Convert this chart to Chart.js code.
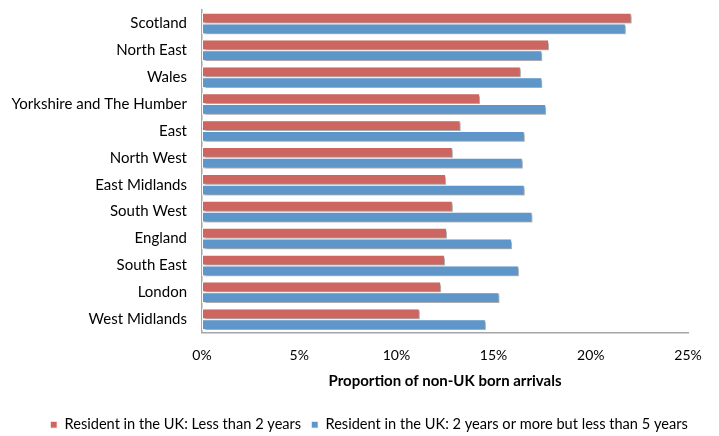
<!DOCTYPE html>
<html>
<head>
<meta charset="utf-8">
<script src="https://cdn.jsdelivr.net/npm/chart.js@4/dist/chart.umd.min.js"></script>
<style>
  html, body { margin: 0; padding: 0; background: #fff; }
  #wrap { width: 719px; height: 436px; }
</style>
</head>
<body>
<div id="wrap"><canvas id="chart"></canvas></div>
<script>
// regions, top to bottom
var regions = ['Scotland', 'North East', 'Wales', 'Yorkshire and The Humber', 'East',
    'North West', 'East Midlands', 'South West', 'England', 'South East', 'London', 'West Midlands'];

// % of non-UK born arrivals
var lessThan2 = [22.1, 17.85, 16.4, 14.3, 13.3, 12.9, 12.55, 12.9, 12.6, 12.5, 12.3, 11.2];
var twoToFive = [21.8, 17.5, 17.5, 17.7, 16.6, 16.5, 16.6, 17.0, 15.95, 16.3, 15.3, 14.6];

var xTicks = [0, 5, 10, 15, 20, 25];

// soft drop shadow on the bars, like the Excel original
var barShadow = {
    id: 'barShadow',
    beforeDatasetDraw: function(chart) {
        var c = chart.ctx;
        c.save();
        c.shadowColor = 'rgba(0,0,0,0.35)';
        c.shadowBlur = 2;
        c.shadowOffsetX = 2;
        c.shadowOffsetY = 2;
    },
    afterDatasetDraw: function(chart) {
        chart.ctx.restore();
    }
};

// legend in the original is centred a bit right of the page middle
var legendNudge = {
    id: 'legendNudge',
    afterLayout: function(chart) {
        var lg = chart.legend;
        var dx = 369 - (lg.left + lg.right) / 2;
        lg.left += dx;
        lg.right += dx;
    }
};

Chart.defaults.font.family = 'Lato, "Open Sans", sans-serif';
Chart.defaults.font.size = 14;
Chart.defaults.color = '#000';

var ctx = document.getElementById('chart').getContext('2d');
var chart = new Chart(ctx, {
    type: 'bar',
    plugins: [barShadow, legendNudge],
    data: {
        labels: regions,
        datasets: [{
            label: 'Resident in the UK: Less than 2 years',
            data: lessThan2,
            backgroundColor: '#cd6661',
            borderColor: '#ffffff',
            borderWidth: 1,
            borderSkipped: false
        }, {
            label: 'Resident in the UK: 2 years or more but less than 5 years',
            data: twoToFive,
            backgroundColor: '#5f96c9',
            borderColor: '#ffffff',
            borderWidth: 1,
            borderSkipped: false
        }]
    },
    options: {
        indexAxis: 'y',
        responsive: true,
        maintainAspectRatio: false,
        animation: false,
        barPercentage: 1.0,
        categoryPercentage: 0.8,
        layout: { padding: { top: 10, right: 31, bottom: -6, left: 0 } },
        plugins: {
            legend: {
                position: 'bottom',
                labels: { boxWidth: 7, boxHeight: 7, padding: 10, font: { size: 14.6 } }
            },
            tooltip: { enabled: false }
        },
        scales: {
            x: {
                min: 0,
                max: 25,
                afterBuildTicks: function(scale) {
                    scale.ticks = xTicks.map(function(v) { return { value: v }; });
                },
                afterFit: function(scale) {
                    scale.paddingRight = 0;
                },
                ticks: {
                    padding: 14,
                    callback: function(v) { return v + '%'; }
                },
                grid: { display: false, drawTicks: false },
                border: { display: true, color: '#a6a6a6', width: 1.5 },
                title: {
                    display: true,
                    text: 'Proportion of non-UK born arrivals',
                    font: { weight: 'bold', size: 15 },
                    padding: { top: -5, bottom: 17 }
                }
            },
            y: {
                grid: { display: false, drawTicks: false },
                border: { display: true, color: '#a6a6a6', width: 1.5 },
                ticks: { padding: 15, font: { size: 15 } },
                afterFit: function(scale) {
                    scale.width = 202;
                    scale.paddingTop = 0;
                    scale.paddingBottom = 0;
                }
            }
        }
    }
});
</script>
</body>
</html>
